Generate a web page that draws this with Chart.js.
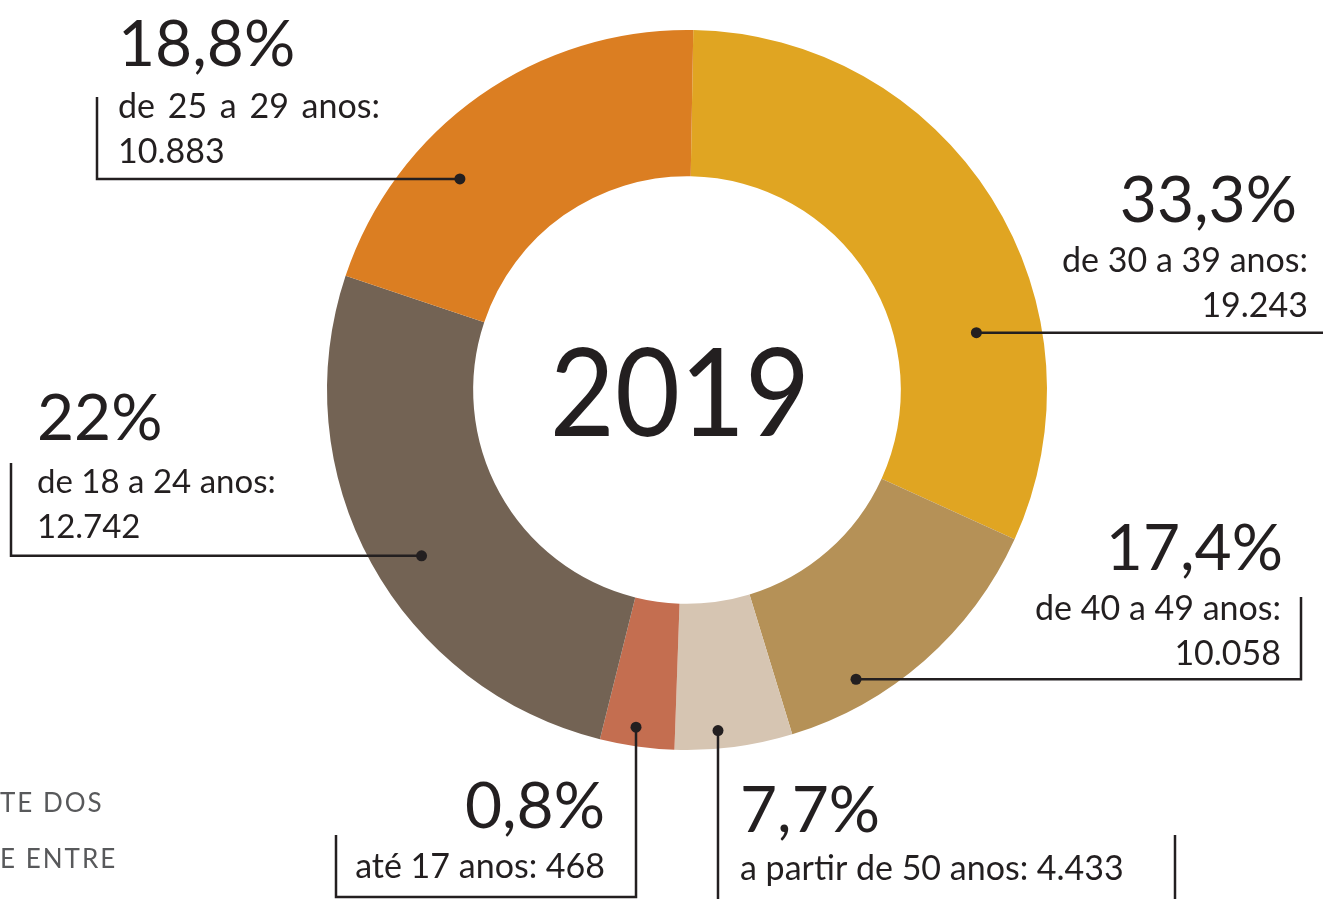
<!DOCTYPE html>
<html lang="pt-BR">
<head>
    <meta charset="UTF-8">
    <title>Faixa etária 2019</title>
    <style>
        html, body { margin: 0; padding: 0; background: #fff; }
        .chart-container { position: relative; width: 1323px; height: 899px; }
    </style>
</head>
<body>
    <div class="chart-container">
        <canvas id="faixaChart"></canvas>
    </div>
    <script src="https://cdn.jsdelivr.net/npm/chart.js"></script>
    <script>
        // dados
        const ano = '2019';
        const faixas = ['de 30 a 39 anos:', 'de 40 a 49 anos:', 'a partir de 50 anos:', 'até 17 anos:', 'de 18 a 24 anos:', 'de 25 a 29 anos:'];
        const totais = ['19.243', '10.058', '4.433', '468', '12.742', '10.883'];
        const percentuais = ['33,3%', '17,4%', '7,7%', '0,8%', '22%', '18,8%'];
        // tamanho de cada fatia como aparece no desenho (graus)
        const fatias = [113.5, 48.5, 19, 12, 94.5, 72.5];
        const cores = ['#E0A522', '#B59157', '#D6C5B2', '#C46E50', '#736354', '#DB7E22'];

        const tinta = '#231F20';
        const fonte = 'Lato, "Open Sans", sans-serif';

        // posição dos rótulos e linhas de chamada (ângulo/raio do ponto, caminho da linha)
        const rotulos = [
            { ang: 78.8, r: 295, path: [['h', 1323]], align: 'right', px: 1297, lx: 1308, y: [222, 272, 317], dois: true },
            { ang: 149.7, r: 335, path: [['h', 1301], ['v', 597]], align: 'right', px: 1283, lx: 1281, y: [570, 620, 665], dois: true },
            { ang: 174.8, r: 342, path: [['v', 899]], align: 'left', px: 740, lx: 740, y: [832, 880], dois: false },
            { ang: 188.6, r: 341, path: [['v', 897], ['h', 336], ['v', 835]], align: 'right', px: 605, lx: 605, y: [828, 878], dois: false },
            { ang: 238, r: 313, path: [['h', 11], ['v', 463]], align: 'left', px: 37, lx: 37, y: [440, 493, 538], dois: true, fs: 33 },
            { ang: 312.9, r: 310, path: [['h', 97], ['v', 97]], align: 'left', px: 118, lx: 118, y: [66, 118, 163], dois: true, ws: 4 }
        ];

        const rotulosPlugin = {
            id: 'rotulos',
            afterDatasetsDraw(chart) {
                const ctx = chart.ctx;
                const arcos = chart.getDatasetMeta(0).data;
                const cx = arcos[0].x, cy = arcos[0].y;
                ctx.save();

                // ano no centro (um pouco condensado)
                ctx.fillStyle = tinta;
                ctx.font = '400 122px ' + fonte;
                ctx.textAlign = 'center';
                ctx.textBaseline = 'alphabetic';
                ctx.save();
                ctx.translate(cx - 7, cy + 46);
                ctx.scale(0.92, 1);
                ctx.fillText(ano, 0, 0);
                ctx.restore();

                rotulos.forEach((r, i) => {
                    const a = (r.ang - 90) * Math.PI / 180;
                    let x = cx + r.r * Math.cos(a);
                    let y = cy + r.r * Math.sin(a);

                    // linha de chamada
                    ctx.strokeStyle = tinta;
                    ctx.lineWidth = 2.5;
                    ctx.beginPath();
                    ctx.moveTo(x, y);
                    r.path.forEach(p => {
                        if (p[0] === 'h') x = p[1]; else y = p[1];
                        ctx.lineTo(x, y);
                    });
                    ctx.stroke();

                    ctx.beginPath();
                    ctx.fillStyle = tinta;
                    ctx.arc(cx + r.r * Math.cos(a), cy + r.r * Math.sin(a), 5.5, 0, Math.PI * 2);
                    ctx.fill();

                    // textos
                    ctx.textAlign = r.align;
                    ctx.font = '400 64px ' + fonte;
                    ctx.fillText(percentuais[i], r.px, r.y[0]);
                    ctx.font = '400 ' + (r.fs || 34) + 'px ' + fonte;
                    ctx.wordSpacing = (r.ws || 0) + 'px';
                    if (r.dois) {
                        ctx.fillText(faixas[i], r.lx, r.y[1]);
                        ctx.fillText(totais[i], r.lx, r.y[2]);
                    } else {
                        ctx.fillText(faixas[i] + ' ' + totais[i], r.lx, r.y[1]);
                    }
                    ctx.wordSpacing = '0px';
                });

                // borda direita da caixa do rótulo de 50 anos
                ctx.beginPath();
                ctx.moveTo(1175, 835);
                ctx.lineTo(1175, 899);
                ctx.stroke();

                // texto cortado à esquerda
                ctx.fillStyle = '#58595B';
                ctx.font = '400 26px ' + fonte;
                ctx.textAlign = 'left';
                ctx.letterSpacing = '2px';
                ctx.fillText('TE DOS', 0, 812);
                ctx.fillText('E ENTRE', 0, 868);
                ctx.restore();
            }
        };

        const ctxFaixa = document.getElementById('faixaChart').getContext('2d');
        const faixaChart = new Chart(ctxFaixa, {
            type: 'doughnut',
            data: {
                labels: faixas,
                datasets: [{
                    data: fatias,
                    backgroundColor: cores,
                    borderWidth: 0
                }]
            },
            options: {
                responsive: true,
                maintainAspectRatio: false,
                animation: false,
                rotation: 1,
                cutout: '59.4%',
                layout: {
                    padding: { left: 327, right: 276, top: 30, bottom: 149 }
                },
                plugins: {
                    legend: { display: false },
                    tooltip: { enabled: false }
                }
            },
            plugins: [rotulosPlugin]
        });
    </script>
</body>
</html>
